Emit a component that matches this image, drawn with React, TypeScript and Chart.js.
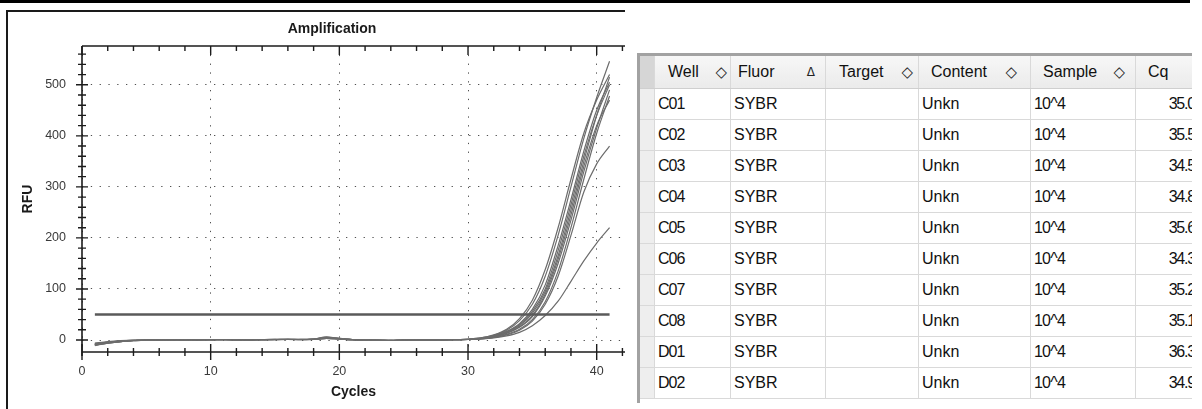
import React, { useEffect, useRef } from 'react';
import { Chart, registerables } from 'chart.js';

Chart.register(...registerables);

const FONT = "'Liberation Sans', Arial, Helvetica, sans-serif";

// ---------- chart data ----------
const cycles = [1, 2, 3, 4, 5, 6, 7, 8, 9, 10, 11, 12, 13, 14, 15, 16, 17, 18, 19, 20, 21, 22, 23, 24, 25, 26, 27, 28, 29, 30, 31, 32, 33, 34, 35, 36, 37, 38, 39, 40, 41];

const rfuC01 = [-9, -5, -2, -1, 0, 0, 1, 0, 0, 1, 1, 0, 0, 1, 1, 1, 0, 1, 3, 2, 0, 0, -1, -1, 0, 0, 0, 0, 0, 1, 3, 7, 15, 28, 52, 95, 165, 255, 350, 440, 515];
const rfuC02 = [-8, -4, -2, -1, -1, 0, 0, 1, 0, 0, 1, 1, 0, 0, 1, 2, 1, 1, 4, 2, 1, 0, -1, 0, 0, -1, 0, 0, 1, 1, 2, 5, 11, 21, 40, 75, 135, 220, 315, 405, 478];
const rfuC03 = [-10, -6, -3, -1, 0, 0, 0, 0, 1, 1, 0, 0, 1, 1, 1, 1, 1, 2, 5, 3, 1, 0, 0, -1, -1, 0, 0, 1, 1, 2, 4, 9, 19, 38, 70, 125, 205, 300, 395, 475, 546];
const rfuC04 = [-7, -4, -2, -1, 0, 1, 0, 0, 0, 1, 1, 1, 0, 0, 1, 1, 2, 2, 4, 3, 1, 0, 0, 0, -1, 0, 0, 0, 1, 1, 3, 8, 17, 32, 60, 108, 185, 275, 370, 450, 505];
const rfuC05 = [-9, -5, -3, -1, -1, 0, 0, 0, 0, 0, 1, 0, 0, 1, 0, 1, 1, 1, 3, 2, 0, -1, -1, -1, 0, 0, 0, 0, 0, 1, 2, 5, 10, 19, 37, 70, 125, 205, 290, 345, 380];
const rfuC06 = [-11, -6, -3, -2, 0, 0, 0, 1, 1, 1, 1, 0, 1, 1, 2, 1, 1, 2, 6, 3, 1, 0, 0, -1, 0, 0, 0, 1, 1, 2, 4, 10, 21, 42, 78, 138, 220, 315, 405, 470, 520];
const rfuC07 = [-8, -5, -2, -1, 0, 0, 1, 0, 0, 1, 0, 0, 0, 1, 1, 1, 1, 1, 4, 2, 1, 0, -1, -1, 0, -1, 0, 0, 1, 1, 3, 6, 13, 25, 46, 86, 150, 235, 330, 415, 490];
const rfuC08 = [-9, -5, -2, 0, 0, 0, 0, 1, 0, 0, 1, 1, 1, 1, 1, 2, 1, 2, 4, 3, 1, 0, 0, -1, 0, 0, 0, 0, 1, 1, 3, 7, 14, 26, 48, 90, 158, 245, 340, 420, 470];
const rfuD01 = [-6, -3, -1, 0, 0, 0, 0, 0, 1, 0, 1, 0, 0, 0, 1, 1, 1, 1, 3, 2, 0, 0, -1, -1, -1, 0, 0, 0, 0, 1, 2, 4, 8, 15, 28, 48, 76, 115, 155, 190, 220];
const rfuD02 = [-10, -6, -3, -1, 0, 0, 1, 1, 0, 1, 1, 1, 0, 1, 1, 1, 1, 2, 5, 3, 1, 0, 0, -1, 0, 0, 0, 1, 1, 1, 3, 7, 16, 30, 56, 100, 175, 265, 360, 440, 500];

const curveSeries = [rfuC01, rfuC02, rfuC03, rfuC04, rfuC05, rfuC06, rfuC07, rfuC08, rfuD01, rfuD02];

const thresholdRFU = 50;
const thresholdCycles = [1, 41];

const xMajorTicks = [0, 10, 20, 30, 40];
const xMinorTicks = [0, 2, 4, 6, 8, 10, 12, 14, 16, 18, 20, 22, 24, 26, 28, 30, 32, 34, 36, 38, 40, 42];
const yMajorTicks = [0, 100, 200, 300, 400, 500];
const yMinorTicks = [0, 20, 40, 60, 80, 100, 120, 140, 160, 180, 200, 220, 240, 260, 280, 300, 320, 340, 360, 380, 400, 420, 440, 460, 480, 500, 520, 540, 560];

// ---------- table data ----------
const headers = ['Well', 'Fluor', 'Target', 'Content', 'Sample', 'Cq'];
const headerIcons = ['◇', 'Δ', '◇', '◇', '◇', ''];
const wells = ['C01', 'C02', 'C03', 'C04', 'C05', 'C06', 'C07', 'C08', 'D01', 'D02'];
const fluors = ['SYBR', 'SYBR', 'SYBR', 'SYBR', 'SYBR', 'SYBR', 'SYBR', 'SYBR', 'SYBR', 'SYBR'];
const targets = ['', '', '', '', '', '', '', '', '', ''];
const contents = ['Unkn', 'Unkn', 'Unkn', 'Unkn', 'Unkn', 'Unkn', 'Unkn', 'Unkn', 'Unkn', 'Unkn'];
const samples = ['10^4', '10^4', '10^4', '10^4', '10^4', '10^4', '10^4', '10^4', '10^4', '10^4'];
const cqValues = ['35.0', '35.5', '34.5', '34.8', '35.6', '34.3', '35.2', '35.1', '36.3', '34.9'];

// layout (not data)
const colWidths = [76, 95, 93, 112, 105, 72];
const headerPadLeft = [13, 7, 13, 12, 12, 12];
const headerIconRight = [3, 10, 5, 13, 10, 0];
const cellLetterSpacing = [-1, 0, 0, 0, -0.8, -1.2];

const axesPlugin = {
  id: 'qpcrAxes',
  afterDraw(chart: any) {
    const { ctx, chartArea: a, scales } = chart;
    const x = scales.x;
    const y = scales.y;
    ctx.save();
    ctx.strokeStyle = '#1c1c1c';
    ctx.lineWidth = 1.6;
    ctx.beginPath();
    ctx.moveTo(a.left, a.top);
    ctx.lineTo(a.left, a.bottom + 4);
    ctx.moveTo(a.left, a.bottom);
    ctx.lineTo(a.right, a.bottom);
    ctx.moveTo(a.left, a.top);
    ctx.lineTo(a.right, a.top);
    ctx.stroke();
    ctx.lineWidth = 1.4;
    ctx.beginPath();
    xMinorTicks.forEach((v) => {
      const px = x.getPixelForValue(v);
      const major = xMajorTicks.includes(v);
      const len = major ? 8 : 4;
      ctx.moveTo(px, a.bottom - len);
      ctx.lineTo(px, a.bottom + len);
      ctx.moveTo(px, a.top);
      ctx.lineTo(px, a.top + (major ? 9 : 5));
    });
    yMinorTicks.forEach((v) => {
      const py = y.getPixelForValue(v);
      const major = yMajorTicks.includes(v);
      const len = major ? 6 : 4;
      ctx.moveTo(a.left - len, py);
      ctx.lineTo(a.left + len, py);
    });
    ctx.stroke();
    ctx.restore();
  },
};

function AmplificationChart() {
  const ref = useRef<HTMLCanvasElement | null>(null);
  useEffect(() => {
    if (!ref.current) return;
    const curveSets = curveSeries.map((vals, i) => ({
      label: wells[i],
      data: cycles.map((c, j) => ({ x: c, y: vals[j] })),
      borderColor: '#6c6c6c',
      borderWidth: 1.2,
      pointRadius: 0,
      fill: false,
      cubicInterpolationMode: 'monotone' as const,
      yAxisID: 'y',
      order: 1,
    }));
    const chart = new Chart(ref.current, {
      type: 'line',
      data: {
        datasets: [
          {
            label: 'Threshold',
            data: thresholdCycles.map((c) => ({ x: c, y: thresholdRFU })),
            borderColor: '#5a5a5a',
            borderWidth: 2.4,
            pointRadius: 0,
            fill: false,
            yAxisID: 'y',
            order: 0,
          },
          ...curveSets,
        ],
      },
      options: {
        responsive: false,
        animation: false,
        events: [],
        layout: { padding: 0 },
        plugins: {
          legend: { display: false },
          tooltip: { enabled: false },
          title: {
            display: true,
            text: 'Amplification',
            color: '#1a1a1a',
            font: { family: FONT, size: 14, weight: 'bold' },
            padding: { top: 21, bottom: 8.2 },
          },
        },
        scales: {
          x: {
            type: 'linear',
            min: 0,
            max: 42.2,
            afterBuildTicks: (s: any) => {
              s.ticks = xMajorTicks.map((v) => ({ value: v }));
            },
            afterFit: (s: any) => {
              s.height = 57;
            },
            grid: { color: '#505050', lineWidth: 1, drawTicks: false },
            border: { display: false, dash: [1.3, 7.5] },
            ticks: {
              color: '#3a3a3a',
              font: { family: FONT, size: 12.5 },
              padding: 12,
              maxRotation: 0,
              autoSkip: false,
              callback: (v: any) => String(v),
            },
            title: {
              display: true,
              text: 'Cycles',
              color: '#1a1a1a',
              font: { family: FONT, size: 14, weight: 'bold' },
              padding: { top: 0, bottom: 8 },
            },
          },
          y: {
            type: 'linear',
            position: 'left',
            min: -23.5,
            max: 576,
            afterBuildTicks: (s: any) => {
              s.ticks = yMajorTicks.map((v) => ({ value: v }));
            },
            afterFit: (s: any) => {
              s.width = 74;
            },
            grid: { color: '#505050', lineWidth: 1, drawTicks: false },
            border: { display: false, dash: [1.3, 7.5] },
            ticks: {
              color: '#3a3a3a',
              font: { family: FONT, size: 12.5 },
              padding: 16,
              autoSkip: false,
              callback: (v: any) => String(v),
            },
            title: {
              display: true,
              text: 'RFU',
              color: '#1a1a1a',
              font: { family: FONT, size: 14, weight: 'bold' },
              padding: { top: 12, bottom: 0 },
            },
          },
          yRightSpace: {
            type: 'linear',
            position: 'right',
            min: 0,
            max: 1,
            afterFit: (s: any) => {
              s.width = 31;
            },
            grid: { display: false, drawTicks: false },
            border: { display: false },
            ticks: { display: false },
          },
        },
      } as any,
      plugins: [axesPlugin],
    });
    return () => chart.destroy();
  }, []);
  return (
    <canvas
      ref={ref}
      width={648}
      height={409}
      style={{ position: 'absolute', left: 8, top: 0, width: 648, height: 409 }}
    />
  );
}

function WellTable() {
  const rows = wells.map((w, i) => [w, fluors[i], targets[i], contents[i], samples[i], cqValues[i]]);
  const cellBorder = '1px solid #d9d9d9';
  return (
    <div
      style={{
        position: 'absolute',
        left: 637,
        top: 53,
        width: 555,
        height: 350,
        overflow: 'hidden',
        boxSizing: 'border-box',
        borderTop: '3px solid #a2a2a2',
        borderLeft: '3px solid #a2a2a2',
        background: '#fff',
        fontFamily: FONT,
        fontSize: 16,
        color: '#111',
      }}
    >
      <div style={{ display: 'flex', height: 33, background: 'linear-gradient(#f7f7f7, #ebebeb)', borderBottom: '1px solid #cfcfcf', boxSizing: 'border-box', whiteSpace: 'nowrap' }}>
        <div style={{ width: 14, flex: '0 0 14px', borderRight: cellBorder, background: '#d6d6d6' }} />
        {headers.map((h, i) => (
          <div
            key={h}
            style={{
              position: 'relative',
              flex: `0 0 ${colWidths[i]}px`,
              width: colWidths[i],
              borderRight: cellBorder,
              boxSizing: 'border-box',
              paddingLeft: headerPadLeft[i],
              lineHeight: '32px',
            }}
          >
            {h}
            {headerIcons[i] ? (
              <span
                style={{
                  position: 'absolute',
                  right: headerIconRight[i],
                  top: 0,
                  fontSize: headerIcons[i] === 'Δ' ? 12 : 15,
                  fontFamily: "'DejaVu Sans', sans-serif",
                  color: '#222',
                }}
              >
                {headerIcons[i]}
              </span>
            ) : null}
          </div>
        ))}
      </div>
      {rows.map((r, ri) => (
        <div key={ri} style={{ display: 'flex', height: 31, borderBottom: cellBorder, boxSizing: 'border-box', whiteSpace: 'nowrap' }}>
          <div style={{ width: 14, flex: '0 0 14px', borderRight: cellBorder, background: '#eeeeee' }} />
          {r.map((v, ci) => (
            <div
              key={ci}
              style={{
                flex: `0 0 ${colWidths[ci]}px`,
                width: colWidths[ci],
                borderRight: cellBorder,
                boxSizing: 'border-box',
                paddingLeft: ci === 5 ? 0 : 3,
                paddingRight: ci === 5 ? 12 : 0,
                textAlign: ci === 5 ? 'right' : 'left',
                letterSpacing: cellLetterSpacing[ci],
                lineHeight: '30px',
              }}
            >
              {v}
            </div>
          ))}
        </div>
      ))}
    </div>
  );
}

export default function App() {
  return (
    <div style={{ position: 'fixed', left: 0, top: 0, width: 1202, height: 409, overflow: 'hidden', background: '#fff' }}>
      <div style={{ position: 'absolute', left: 0, top: 0, width: 1190, height: 3, background: '#000' }} />
      <div style={{ position: 'absolute', left: 6, top: 10, width: 2, height: 399, background: '#1a1a1a' }} />
      <div style={{ position: 'absolute', left: 6, top: 10, width: 619, height: 2, background: '#1a1a1a' }} />
      <AmplificationChart />
      <WellTable />
    </div>
  );
}
